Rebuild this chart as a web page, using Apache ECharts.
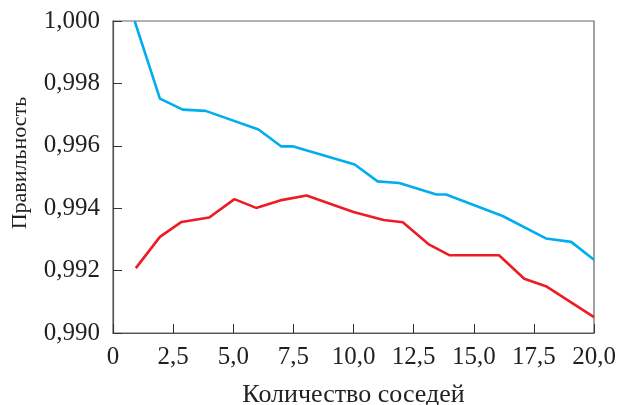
<!DOCTYPE html>
<html>
<head>
<meta charset="utf-8">
<script src="https://cdn.jsdelivr.net/npm/echarts@6/dist/echarts.min.js"></script>
<style>
html,body{margin:0;padding:0;background:#fff;}
#chart{width:619px;height:405px;}
</style>
</head>
<body>
<div id="chart"></div>
<script>
const xAxisTitle = 'Количество соседей';
const yAxisTitle = 'Правильность';

const blueX = [0.9, 1.95, 2.9, 3.85, 6.05, 7.0, 7.5, 10.05, 11.0, 11.9, 13.45, 13.85, 16.2, 18.0, 19.05, 20.0];
const blueY = [1.0000, 0.99751, 0.99716, 0.99712, 0.99652, 0.99598, 0.99598, 0.99540, 0.99486, 0.99481, 0.99444, 0.99444, 0.99375, 0.99303, 0.99292, 0.99235];

const redX = [0.95, 1.95, 2.85, 4.0, 5.05, 5.95, 6.95, 8.05, 10.0, 11.25, 12.05, 13.15, 14.0, 16.05, 17.1, 18.0, 20.0];
const redY = [0.99208, 0.99308, 0.99356, 0.99370, 0.99429, 0.99401, 0.99425, 0.99441, 0.99388, 0.99362, 0.99355, 0.99283, 0.99249, 0.99249, 0.99174, 0.99150, 0.99051];

const xMin = 0, xMax = 20, xStep = 2.5;
const yMin = 0.990, yMax = 1.000, yStep = 0.002;

const font = '"Liberation Serif", "Times New Roman", serif';
const chart = echarts.init(document.getElementById('chart'), null, {renderer: 'canvas'});
const zip = (xs, ys) => xs.map((x, i) => [x, ys[i]]);

chart.setOption({
  animation: false,
  backgroundColor: '#fff',
  grid: {left: 113, top: 21, width: 481, height: 312, containLabel: false, outerBoundsMode: 'none',
         show: true, borderColor: '#666', borderWidth: 1.2},
  xAxis: {
    type: 'value', min: xMin, max: xMax, interval: xStep,
    name: xAxisTitle, nameLocation: 'middle', nameGap: 49,
    nameTextStyle: {fontFamily: font, fontSize: 26, color: '#231f20'},
    axisLine: {show: true, onZero: false, lineStyle: {color: '#555', width: 1.2}},
    axisTick: {show: true, inside: true, length: 9, lineStyle: {color: '#333'}},
    splitLine: {show: false},
    axisLabel: {fontFamily: font, fontSize: 25, color: '#231f20', margin: 12,
      formatter: v => v === 0 ? '0' : v.toFixed(1).replace('.', ',')}
  },
  yAxis: {
    type: 'value', min: yMin, max: yMax, interval: yStep,
    name: yAxisTitle, nameLocation: 'middle', nameGap: 82,
    nameTextStyle: {fontFamily: font, fontSize: 22, color: '#231f20', padding: [0, 0, 0, 28]},
    axisLine: {show: true, lineStyle: {color: '#555', width: 1.2}},
    axisTick: {show: true, inside: true, length: 9, lineStyle: {color: '#333'}},
    splitLine: {show: false},
    axisLabel: {fontFamily: font, fontSize: 25, color: '#231f20', margin: 13,
      formatter: v => v.toFixed(3).replace('.', ',')}
  },
  series: [
    {type: 'line', data: zip(blueX, blueY), showSymbol: false, lineStyle: {color: '#00aeef', width: 2.6}, itemStyle: {color: '#00aeef'}},
    {type: 'line', data: zip(redX, redY), showSymbol: false, lineStyle: {color: '#ed1c24', width: 2.6}, itemStyle: {color: '#ed1c24'}}
  ]
});
</script>
</body>
</html>
